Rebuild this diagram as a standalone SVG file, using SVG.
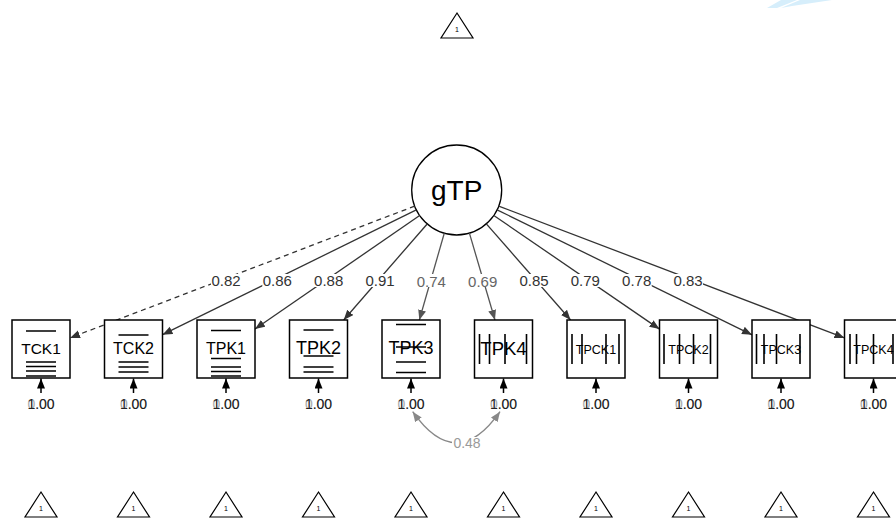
<svg xmlns="http://www.w3.org/2000/svg" width="896" height="518" viewBox="0 0 896 518">
<style>
text{font-family:"Liberation Sans",Arial,sans-serif}
.box{fill:#fff;stroke:#000;stroke-width:1.5}
.bl{stroke:#000;stroke-width:1.6}
.tri{fill:#fff;stroke:#000;stroke-width:1.2}
.t1{font-size:7px;text-anchor:middle;fill:#000}
.lbl{text-anchor:middle;fill:#000}
.e{stroke:#333;stroke-width:1.3;fill:none}
.eg{stroke:#555;stroke-width:1.3;fill:none}
.el{font-size:15px;text-anchor:middle;fill:#333}
.elg{font-size:15px;text-anchor:middle;fill:#666}
.bg{fill:#fff}
.res{stroke:#000;stroke-width:1.5}
.v{font-size:14px;text-anchor:middle}
</style>
<defs>
<marker id="ah" markerUnits="userSpaceOnUse" markerWidth="11" markerHeight="9" refX="10" refY="4" orient="auto"><path d="M0,0 L10,4 L0,8 z" fill="#333"/></marker>
<marker id="ahg" markerUnits="userSpaceOnUse" markerWidth="11" markerHeight="9" refX="10" refY="4" orient="auto"><path d="M0,0 L10,4 L0,8 z" fill="#555"/></marker>
<marker id="ahc" markerUnits="userSpaceOnUse" markerWidth="11" markerHeight="9" refX="10" refY="4" orient="auto-start-reverse"><path d="M0,0 L10,4 L0,8 z" fill="#888"/></marker>
<marker id="ahk" markerUnits="userSpaceOnUse" markerWidth="11" markerHeight="9" refX="10" refY="4" orient="auto"><path d="M0,0 L10,4 L0,8 z" fill="#000"/></marker>
</defs>

<g id="watermark" fill="#d6eefb">
<polygon points="781,0 797,0 777,8 767,8"/>
<polygon points="800,0 832,0 792,6 781,8"/>
</g>

<g id="intercept-top"><polygon class="tri" points="457,13 473,38 441,38"/><text class="t1" x="457" y="32">1</text></g>

<g id="gTP"><circle cx="456.7" cy="190" r="45" fill="#fff" stroke="#000" stroke-width="1.3"/><text x="456.7" y="200" font-size="28" text-anchor="middle">gTP</text></g>

<g id="connectors">
<line class="e" x1="414.67" y1="206.08" x2="70" y2="337.9" stroke-dasharray="5,4" marker-end="url(#ah)"/>
<line class="e" x1="416.32" y1="209.86" x2="162.5" y2="334.7" marker-end="url(#ah)"/>
<line class="e" x1="419.65" y1="215.54" x2="255" y2="329" marker-end="url(#ah)"/>
<line class="e" x1="427.18" y1="223.96" x2="343.7" y2="320" marker-end="url(#ah)"/>
<line class="eg" x1="444.27" y1="233.25" x2="419.34" y2="320" marker-end="url(#ahg)"/>
<line class="eg" x1="469.41" y1="233.17" x2="494.96" y2="320" marker-end="url(#ahg)"/>
<line class="e" x1="486.35" y1="223.85" x2="570.6" y2="320" marker-end="url(#ah)"/>
<line class="e" x1="493.81" y1="215.45" x2="659.5" y2="329.1" marker-end="url(#ah)"/>
<line class="e" x1="497.1" y1="209.81" x2="752" y2="334.8" marker-end="url(#ah)"/>
<line class="e" x1="498.74" y1="206.04" x2="844.5" y2="337.9" marker-end="url(#ah)"/>
<g>
<rect class="bg" x="211" y="274" width="30" height="13"/><text class="el" x="226" y="285.5">0.82</text>
<rect class="bg" x="262.3" y="274" width="30" height="13"/><text class="el" x="277.3" y="285.5">0.86</text>
<rect class="bg" x="313.7" y="274" width="30" height="13"/><text class="el" x="328.7" y="285.5">0.88</text>
<rect class="bg" x="365" y="274" width="30" height="13"/><text class="el" x="380" y="285.5">0.91</text>
<rect class="bg" x="416.3" y="274" width="30" height="13"/><text class="elg" x="431.3" y="286.5">0.74</text>
<rect class="bg" x="467.7" y="274" width="30" height="13"/><text class="elg" x="482.7" y="286.5">0.69</text>
<rect class="bg" x="519" y="274" width="30" height="13"/><text class="el" x="534" y="285.5">0.85</text>
<rect class="bg" x="570.3" y="274" width="30" height="13"/><text class="el" x="585.3" y="285.5">0.79</text>
<rect class="bg" x="621.7" y="274" width="30" height="13"/><text class="el" x="636.7" y="285.5">0.78</text>
<rect class="bg" x="673" y="274" width="30" height="13"/><text class="el" x="688" y="285.5">0.83</text>
</g>
<g id="residuals">
<line class="res" x1="41" y1="393" x2="41" y2="378.5" marker-end="url(#ahk)"/>
<line class="res" x1="133.5" y1="393" x2="133.5" y2="378.5" marker-end="url(#ahk)"/>
<line class="res" x1="226" y1="393" x2="226" y2="378.5" marker-end="url(#ahk)"/>
<line class="res" x1="318.5" y1="393" x2="318.5" y2="378.5" marker-end="url(#ahk)"/>
<line class="res" x1="411" y1="393" x2="411" y2="378.5" marker-end="url(#ahk)"/>
<line class="res" x1="503.5" y1="393" x2="503.5" y2="378.5" marker-end="url(#ahk)"/>
<line class="res" x1="596" y1="393" x2="596" y2="378.5" marker-end="url(#ahk)"/>
<line class="res" x1="688.5" y1="393" x2="688.5" y2="378.5" marker-end="url(#ahk)"/>
<line class="res" x1="781" y1="393" x2="781" y2="378.5" marker-end="url(#ahk)"/>
<line class="res" x1="873.5" y1="393" x2="873.5" y2="378.5" marker-end="url(#ahk)"/>
</g>
<g id="variance-labels">
<g><text class="v" x="41" y="409" fill="#aaa">0.00</text><text class="v" x="41" y="409" fill="#222">1.00</text></g>
<g><text class="v" x="133.5" y="409" fill="#aaa">0.00</text><text class="v" x="133.5" y="409" fill="#222">1.00</text></g>
<g><text class="v" x="226" y="409" fill="#aaa">0.00</text><text class="v" x="226" y="409" fill="#222">1.00</text></g>
<g><text class="v" x="318.5" y="409" fill="#aaa">0.00</text><text class="v" x="318.5" y="409" fill="#222">1.00</text></g>
<g><text class="v" x="411" y="409" fill="#aaa">0.00</text><text class="v" x="411" y="409" fill="#222">1.00</text></g>
<g><text class="v" x="503.5" y="409" fill="#aaa">0.00</text><text class="v" x="503.5" y="409" fill="#222">1.00</text></g>
<g><text class="v" x="596" y="409" fill="#aaa">0.00</text><text class="v" x="596" y="409" fill="#222">1.00</text></g>
<g><text class="v" x="688.5" y="409" fill="#aaa">0.00</text><text class="v" x="688.5" y="409" fill="#222">1.00</text></g>
<g><text class="v" x="781" y="409" fill="#aaa">0.00</text><text class="v" x="781" y="409" fill="#222">1.00</text></g>
<g><text class="v" x="873.5" y="409" fill="#aaa">0.00</text><text class="v" x="873.5" y="409" fill="#222">1.00</text></g>
</g>
<g id="cov-TPK3-TPK4">
<path d="M412.7,411.7 Q456.4,474 500,411.7" fill="none" stroke="#888" stroke-width="1.4" marker-start="url(#ahc)" marker-end="url(#ahc)"/>
<rect class="bg" x="452" y="437" width="30" height="13"/>
<text x="467" y="447.5" font-size="14" text-anchor="middle" fill="#999">0.48</text>
</g>
</g>

<g id="TCK1"><rect class="box" x="12" y="320" width="58" height="58"/><text class="lbl" x="41" y="354" font-size="15.5">TCK1</text>
<path class="bl" d="M26,331H56M26,362H56M26,366.5H56M26,371H56M26,376H56"/></g>
<g id="TCK2"><rect class="box" x="104.5" y="320" width="58" height="58"/><text class="lbl" x="133.5" y="354" font-size="16">TCK2</text>
<path class="bl" d="M118.5,335H148.5M118.5,362H148.5M118.5,367H148.5M118.5,372H148.5"/></g>
<g id="TPK1"><rect class="box" x="197" y="320" width="58" height="58"/><text class="lbl" x="226" y="354" font-size="16">TPK1</text>
<path class="bl" d="M211,330.5H241M211,358.5H241M211,367H241M211,371.5H241M211,376H241"/></g>
<g id="TPK2"><rect class="box" x="289.5" y="320" width="58" height="58"/><text class="lbl" x="318.5" y="354" font-size="18">TPK2</text>
<path class="bl" d="M303.5,330H333.5M303.5,356H333.5M303.5,367H333.5M303.5,372H333.5"/></g>
<g id="TPK3"><rect class="box" x="382" y="320" width="58" height="58"/><text class="lbl" x="411" y="354" font-size="18">TPK3</text>
<path class="bl" d="M396,324.5H426M396,347H426M396,362H426M396,372.5H426"/></g>
<g id="TPK4"><rect class="box" x="474.5" y="320" width="58" height="58"/><text class="lbl" x="503.5" y="354.5" font-size="18.5">TPK4</text>
<path class="bl" d="M479.5,334V364M489.5,334V364M505,334V364M526.5,334V364"/></g>
<g id="TPCK1"><rect class="box" x="567" y="320" width="58" height="58"/><text class="lbl" x="596" y="353.5" font-size="12.5">TPCK1</text>
<path class="bl" d="M572,334V364M582,334V364M606,334V364M619,334V364"/></g>
<g id="TPCK2"><rect class="box" x="659.5" y="320" width="58" height="58"/><text class="lbl" x="688.5" y="353.5" font-size="12.5">TPCK2</text>
<path class="bl" d="M664,334V364M679.5,334V364M693.5,334V364M710.5,334V364"/></g>
<g id="TPCK3"><rect class="box" x="752" y="320" width="58" height="58"/><text class="lbl" x="781" y="353.5" font-size="12.5">TPCK3</text>
<path class="bl" d="M756.5,334V364M764,334V364M776.5,334V364M800,334V364"/></g>
<g id="TPCK4"><rect class="box" x="844.5" y="320" width="58" height="58"/><text class="lbl" x="873.5" y="353.5" font-size="12.5">TPCK4</text>
<path class="bl" d="M850,334V364M856.5,334V364M873.5,334V364M893,334V364"/></g>

<g id="intercepts">
<g id="int-TCK1"><polygon class="tri" points="41,492 57,517 25,517"/><text class="t1" x="41" y="511">1</text></g>
<g id="int-TCK2"><polygon class="tri" points="133.5,492 149.5,517 117.5,517"/><text class="t1" x="133.5" y="511">1</text></g>
<g id="int-TPK1"><polygon class="tri" points="226,492 242,517 210,517"/><text class="t1" x="226" y="511">1</text></g>
<g id="int-TPK2"><polygon class="tri" points="318.5,492 334.5,517 302.5,517"/><text class="t1" x="318.5" y="511">1</text></g>
<g id="int-TPK3"><polygon class="tri" points="411,492 427,517 395,517"/><text class="t1" x="411" y="511">1</text></g>
<g id="int-TPK4"><polygon class="tri" points="503.5,492 519.5,517 487.5,517"/><text class="t1" x="503.5" y="511">1</text></g>
<g id="int-TPCK1"><polygon class="tri" points="596,492 612,517 580,517"/><text class="t1" x="596" y="511">1</text></g>
<g id="int-TPCK2"><polygon class="tri" points="688.5,492 704.5,517 672.5,517"/><text class="t1" x="688.5" y="511">1</text></g>
<g id="int-TPCK3"><polygon class="tri" points="781,492 797,517 765,517"/><text class="t1" x="781" y="511">1</text></g>
<g id="int-TPCK4"><polygon class="tri" points="873.5,492 889.5,517 857.5,517"/><text class="t1" x="873.5" y="511">1</text></g>
</g>
</svg>
